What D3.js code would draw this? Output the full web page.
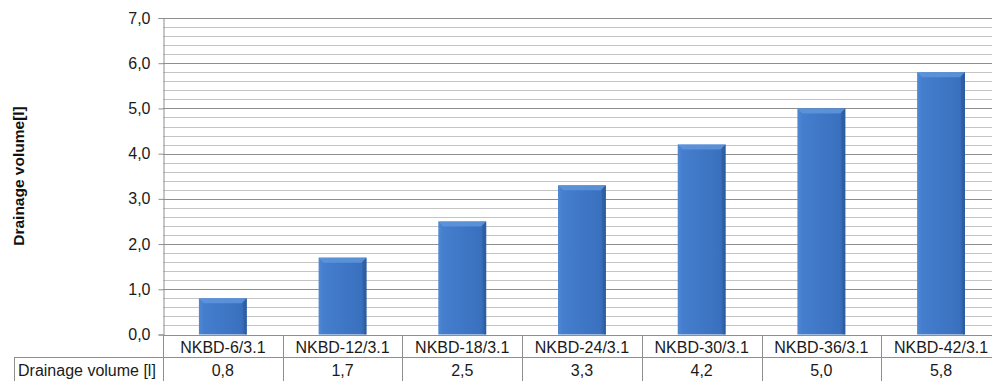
<!DOCTYPE html>
<html><head><meta charset="utf-8">
<script src="https://cdn.jsdelivr.net/npm/d3@7"></script>
<style>body{margin:0;background:#fff;} svg{display:block;}</style>
</head><body>
<svg id="c" width="992" height="381"></svg>
<script>
const categories = ["NKBD-6/3.1","NKBD-12/3.1","NKBD-18/3.1","NKBD-24/3.1","NKBD-30/3.1","NKBD-36/3.1","NKBD-42/3.1"];
const values = [0.8,1.7,2.5,3.3,4.2,5.0,5.8];
const valueLabels = ["0,8","1,7","2,5","3,3","4,2","5,0","5,8"];
const yTicks = [0,1,2,3,4,5,6,7];
const seriesName = "Drainage volume [l]";
const yTitle = "Drainage volume[l]";

const svg = d3.select("#c");
const L = 163, step = 119.7, T = 18, B = 334.5;
const x = d3.scaleBand().domain(categories).range([L, L + step*categories.length]).paddingInner(0.6).paddingOuter(0.3);
const y = d3.scaleLinear().domain([0,7]).range([B, T]);
const font = "Liberation Sans, Arial, sans-serif";

const defs = svg.append("defs");
const g1 = defs.append("linearGradient").attr("id","bar").attr("x1",0).attr("x2",1).attr("y1",0).attr("y2",0);
g1.append("stop").attr("offset","0").attr("stop-color","#5088d4");
g1.append("stop").attr("offset","0.1").attr("stop-color","#447ecd");
g1.append("stop").attr("offset","0.88").attr("stop-color","#3a71bf");
g1.append("stop").attr("offset","1").attr("stop-color","#2d5ea3");

// minor grid
const minor = d3.range(0, 7.0001, 0.2).filter(v => Math.abs(v - Math.round(v)) > 0.01);
svg.append("g").selectAll("line").data(minor).join("line")
  .attr("x1", L).attr("x2", 992).attr("y1", d => Math.round(y(d))+0.5).attr("y2", d => Math.round(y(d))+0.5)
  .attr("stroke","#c4c4c4").attr("stroke-width",1);
// major grid
svg.append("g").selectAll("line").data(yTicks.slice(1)).join("line")
  .attr("x1", L).attr("x2", 992).attr("y1", d => Math.round(y(d))+0.5).attr("y2", d => Math.round(y(d))+0.5)
  .attr("stroke","#8e8e8e").attr("stroke-width",1);

// y axis
const yAxis = d3.axisLeft(y).tickValues(yTicks).tickSize(5).tickPadding(8)
  .tickFormat(d => d3.format(".1f")(d).replace(".", ","));
const ya = svg.append("g").attr("transform", `translate(${L+0.5},0)`).call(yAxis);
ya.select(".domain").attr("stroke","#8e8e8e");
ya.selectAll(".tick line").attr("stroke","#8e8e8e");
ya.selectAll("text").attr("font-family", font).attr("font-size", 16).attr("fill","#1a1a1a");

// bars
const bars = svg.append("g").selectAll("g").data(values).join("g");
bars.append("rect")
  .attr("x", (d,i) => x(categories[i])).attr("y", d => y(d))
  .attr("width", x.bandwidth()).attr("height", d => B - y(d))
  .attr("fill","url(#bar)");
// top bevel
bars.append("path")
  .attr("d", (d,i) => {
    const x0 = x(categories[i]), w = x.bandwidth(), y0 = y(d), b = 5;
    return `M${x0},${y0}L${x0+w},${y0}L${x0+w-b},${y0+b}L${x0+b},${y0+b}Z`;
  })
  .attr("fill","#5f95dc").attr("opacity",0.85);
// right edge shade
bars.append("path")
  .attr("d", (d,i) => {
    const x0 = x(categories[i]), w = x.bandwidth(), y0 = y(d), b = 4;
    return `M${x0+w},${y0}L${x0+w},${B}L${x0+w-2},${B}L${x0+w-b},${y0+b}Z`;
  })
  .attr("fill","#2c5a9a").attr("opacity",0.5);

// x axis baseline
svg.append("line").attr("x1", L).attr("x2", 992).attr("y1", Math.round(B)+0.5).attr("y2", Math.round(B)+0.5).attr("stroke","#8e8e8e");

// data table
const r1 = Math.round(B)+0.5, r2 = 357.5, r3 = 381;
const tbl = svg.append("g").attr("stroke","#8e8e8e").attr("stroke-width",1);
tbl.append("line").attr("x1", 14).attr("x2", 992).attr("y1", r2).attr("y2", r2);
tbl.append("line").attr("x1", 14.5).attr("x2", 14.5).attr("y1", r2).attr("y2", r3);
tbl.append("line").attr("x1", L+0.5).attr("x2", L+0.5).attr("y1", r1).attr("y2", r3);
tbl.selectAll("line.sep").data(categories.slice(1)).join("line").attr("class","sep")
  .attr("x1", d => Math.round(x(d) - x.step()*x.paddingInner()/2)+0.5)
  .attr("x2", d => Math.round(x(d) - x.step()*x.paddingInner()/2)+0.5)
  .attr("y1", r1).attr("y2", r3);

svg.append("g").selectAll("text").data(categories).join("text")
  .attr("x", d => x(d) + x.bandwidth()/2).attr("y", 353)
  .attr("text-anchor","middle").attr("font-family", font).attr("font-size", 16).attr("fill","#1a1a1a")
  .text(d => d);
svg.append("g").selectAll("text").data(valueLabels).join("text")
  .attr("x", (d,i) => x(categories[i]) + x.bandwidth()/2).attr("y", 376)
  .attr("text-anchor","middle").attr("font-family", font).attr("font-size", 16).attr("fill","#1a1a1a")
  .text(d => d);
svg.append("text").attr("x", 18).attr("y", 376).attr("font-family", font).attr("font-size", 16).attr("fill","#1a1a1a").text(seriesName);

// y title
svg.append("text").attr("transform", "translate(24,176) rotate(-90)")
  .attr("text-anchor","middle").attr("font-family", font).attr("font-size", 15.5).attr("font-weight","bold").attr("fill","#111")
  .text(yTitle);
</script>
</body></html>
